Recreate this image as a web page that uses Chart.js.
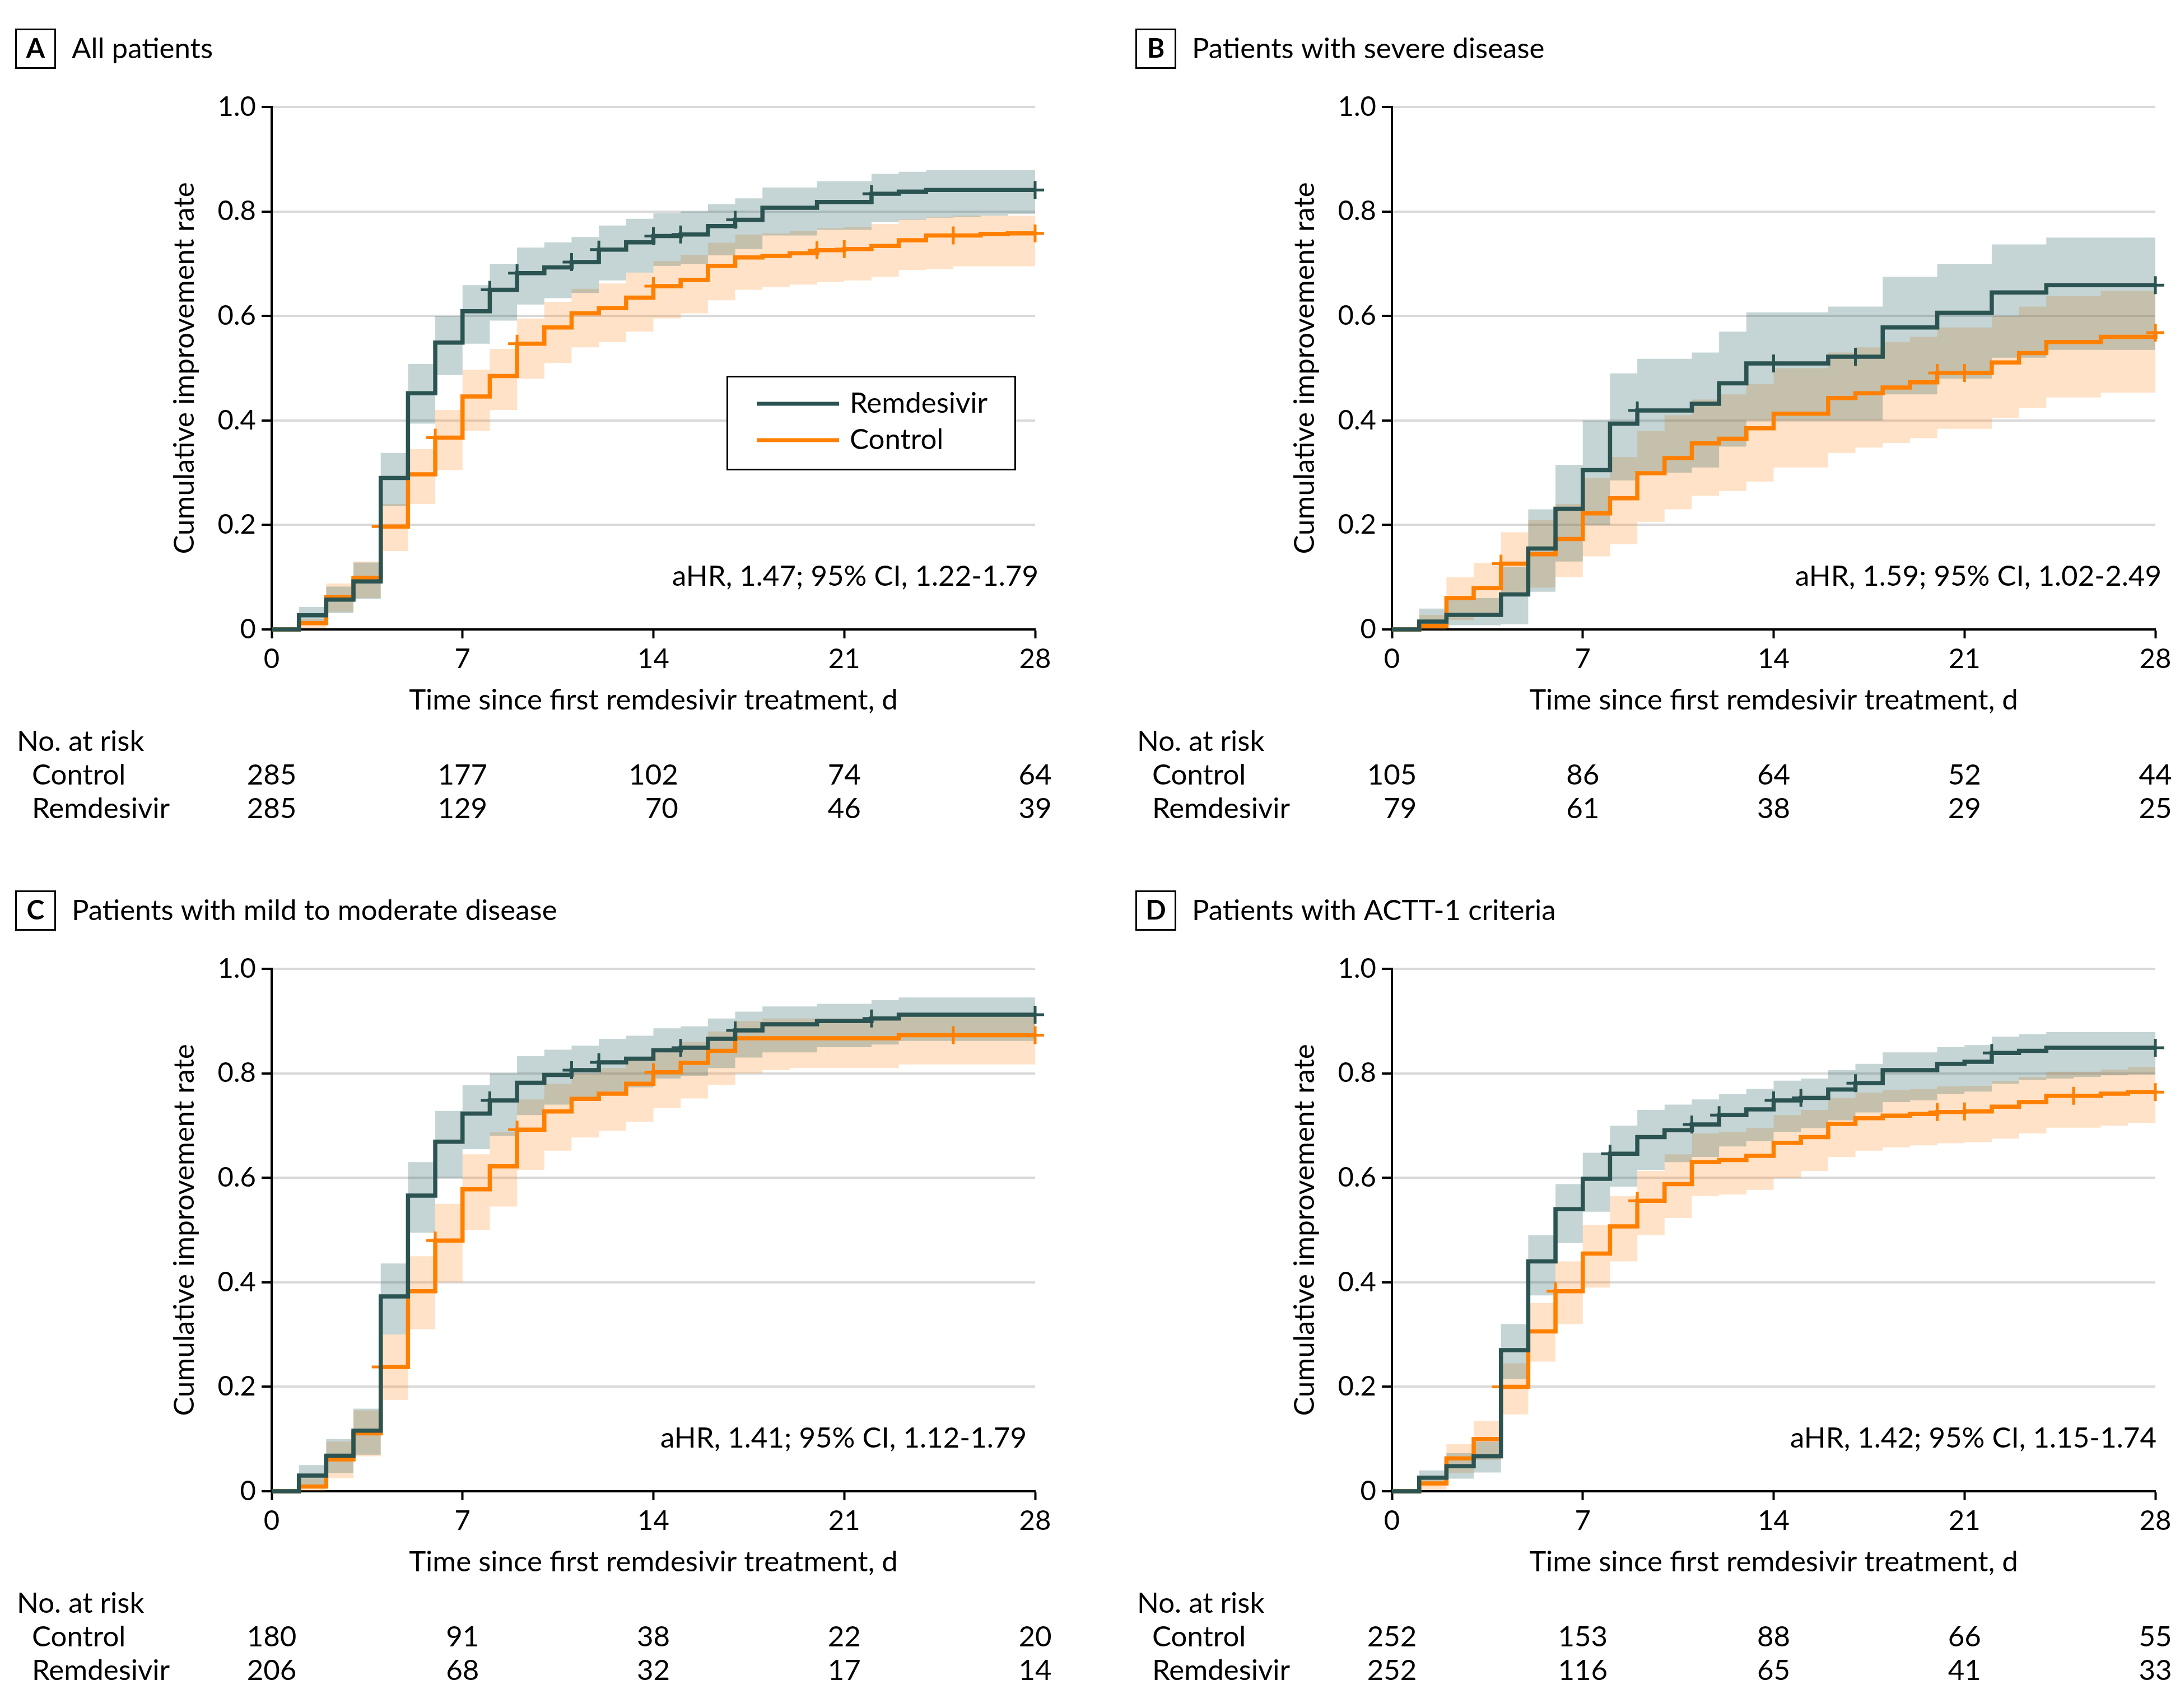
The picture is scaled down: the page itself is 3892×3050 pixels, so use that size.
<!DOCTYPE html>
<html>
<head>
<meta charset="utf-8">
<script src="https://cdn.jsdelivr.net/npm/chart.js@4.4.1/dist/chart.umd.min.js"></script>
<style>
html, body { margin: 0; background: #fff; }
#wrap { position: relative; width: 3892px; height: 3050px; }
canvas { position: absolute; }
</style>
</head>
<body>
<div id="wrap">
<canvas id="cA" width="2000" height="1539" style="left:0;top:0"></canvas>
<canvas id="cB" width="1892" height="1539" style="left:2000px;top:0"></canvas>
<canvas id="cC" width="2000" height="1511" style="left:0;top:1539px"></canvas>
<canvas id="cD" width="1892" height="1511" style="left:2000px;top:1539px"></canvas>
</div>
<script>
// days since first treatment, value after the step on that day
const days = [0,1,2,3,4,5,6,7,8,9,10,11,12,13,14,15,16,17,18,19,20,21,22,23,24,25,26,27,28];
const xTicks = [0, 7, 14, 21, 28];

// A - all patients
const aRem   = [0,.027,.057,.092,.290,.452,.549,.609,.650,.682,.693,.703,.727,.741,.753,.756,.772,.784,.807,.807,.818,.818,.834,.838,.841,.841,.841,.841,.841];
const aRemHi = [0,.043,.082,.128,.338,.508,.600,.659,.700,.731,.741,.751,.773,.786,.797,.800,.814,.825,.846,.846,.858,.858,.872,.876,.879,.879,.879,.879,.879];
const aRemLo = [0,.012,.031,.058,.236,.394,.487,.547,.591,.622,.634,.644,.668,.683,.696,.700,.716,.728,.754,.754,.765,.765,.780,.784,.788,.790,.792,.795,.798];
const aCtl   = [0,.012,.062,.099,.197,.297,.367,.446,.485,.547,.578,.605,.615,.635,.657,.669,.696,.712,.715,.720,.726,.728,.734,.745,.754,.754,.757,.758,.758];
const aCtlHi = [0,.020,.088,.130,.240,.345,.420,.497,.537,.595,.627,.652,.662,.683,.705,.717,.740,.756,.758,.763,.768,.770,.776,.785,.790,.792,.792,.792,.792];
const aCtlLo = [0,.003,.034,.060,.150,.240,.305,.380,.420,.480,.510,.540,.550,.570,.595,.605,.630,.650,.655,.660,.665,.668,.675,.688,.690,.695,.695,.695,.695];
const aRemCens = [8, 9, 11, 12, 14, 15, 17, 22, 28];
const aCtlCens = [4, 6, 9, 14, 20, 21, 25, 28];
const aRiskCtl = [285, 177, 102, 74, 64];
const aRiskRem = [285, 129, 70, 46, 39];

// B - severe disease
const bRem   = [0,.015,.028,.028,.067,.155,.231,.305,.394,.419,.419,.432,.471,.509,.509,.509,.522,.522,.578,.578,.606,.606,.645,.645,.659,.659,.659,.659,.659];
const bRemHi = [0,.040,.060,.060,.120,.230,.315,.400,.490,.518,.518,.530,.570,.607,.607,.607,.618,.618,.675,.675,.700,.700,.737,.737,.750,.750,.750,.750,.750];
const bRemLo = [0,.002,.008,.008,.010,.072,.130,.200,.285,.300,.300,.310,.350,.400,.400,.400,.400,.400,.450,.450,.480,.480,.520,.520,.535,.535,.535,.535,.535];
const bCtl   = [0,.007,.060,.079,.126,.144,.173,.222,.251,.299,.328,.356,.365,.385,.413,.413,.443,.452,.463,.473,.491,.491,.511,.529,.550,.550,.560,.560,.568];
const bCtlHi = [0,.028,.100,.127,.186,.210,.240,.290,.330,.380,.410,.440,.450,.470,.500,.500,.530,.540,.550,.560,.578,.578,.600,.618,.638,.638,.648,.648,.648];
const bCtlLo = [0,0,.018,.030,.065,.080,.100,.140,.163,.206,.230,.256,.265,.283,.310,.310,.338,.348,.357,.366,.384,.384,.405,.424,.444,.444,.453,.453,.453];
const bRemCens = [9, 14, 17, 28];
const bCtlCens = [4, 20, 21, 28];
const bRiskCtl = [105, 86, 64, 52, 44];
const bRiskRem = [79, 61, 38, 29, 25];

// C - mild to moderate disease
const cRem   = [0,.030,.068,.116,.373,.566,.669,.723,.748,.782,.797,.806,.821,.828,.844,.849,.866,.882,.894,.894,.900,.900,.905,.912,.912,.912,.912,.912,.912];
const cRemHi = [0,.050,.100,.158,.436,.630,.728,.777,.800,.833,.845,.853,.866,.872,.886,.890,.905,.918,.928,.928,.933,.933,.940,.945,.945,.945,.945,.945,.945];
const cRemLo = [0,.010,.035,.070,.300,.495,.600,.655,.680,.720,.740,.750,.765,.773,.790,.795,.810,.830,.840,.840,.850,.850,.855,.862,.862,.862,.862,.862,.862];
const cCtl   = [0,.009,.061,.111,.238,.383,.480,.578,.622,.692,.727,.751,.761,.780,.802,.820,.843,.867,.867,.867,.867,.867,.867,.873,.873,.873,.873,.873,.873];
const cCtlHi = [0,.025,.095,.155,.300,.450,.550,.645,.687,.750,.780,.800,.810,.825,.845,.860,.880,.900,.905,.905,.905,.905,.905,.910,.910,.910,.910,.910,.910];
const cCtlLo = [0,0,.025,.067,.175,.310,.400,.500,.545,.615,.652,.677,.690,.707,.733,.752,.778,.800,.806,.810,.810,.810,.810,.817,.817,.817,.817,.817,.817];
const cRemCens = [8, 11, 12, 15, 17, 22, 28];
const cCtlCens = [4, 6, 9, 14, 25, 28];
const cRiskCtl = [180, 91, 38, 22, 20];
const cRiskRem = [206, 68, 32, 17, 14];

// D - ACTT-1 criteria
const dRem   = [0,.026,.048,.067,.270,.440,.540,.598,.646,.678,.691,.702,.720,.731,.748,.753,.769,.781,.806,.806,.818,.822,.839,.843,.849,.849,.849,.849,.849];
const dRemHi = [0,.040,.073,.095,.320,.490,.588,.648,.700,.730,.740,.750,.760,.770,.786,.790,.806,.818,.840,.840,.850,.854,.870,.875,.879,.879,.879,.879,.879];
const dRemLo = [0,.012,.024,.036,.215,.375,.475,.535,.583,.615,.630,.640,.660,.670,.688,.695,.710,.725,.745,.748,.760,.765,.780,.787,.790,.793,.796,.798,.800];
const dCtl   = [0,.015,.063,.100,.200,.306,.383,.455,.507,.556,.588,.630,.634,.642,.667,.678,.703,.714,.719,.722,.726,.727,.736,.745,.757,.757,.761,.764,.764];
const dCtlHi = [0,.025,.090,.135,.245,.360,.440,.510,.565,.613,.645,.685,.688,.695,.720,.730,.753,.763,.768,.770,.775,.776,.785,.793,.803,.803,.807,.812,.812];
const dCtlLo = [0,.003,.035,.060,.147,.248,.320,.390,.440,.490,.523,.565,.568,.577,.600,.613,.640,.652,.658,.662,.666,.668,.675,.685,.696,.696,.700,.705,.705];
const dRemCens = [8, 11, 12, 14, 15, 17, 22, 28];
const dCtlCens = [4, 6, 9, 20, 21, 25, 28];
const dRiskCtl = [252, 153, 88, 66, 55];
const dRiskRem = [252, 116, 65, 41, 33];

const FONT = 'Lato, "Liberation Sans", sans-serif';
const FS = 51;
const REM = '#2b5351';
const CTL = '#ff8000';
const REM_BAND = 'rgba(40,100,100,0.27)';
const CTL_BAND = 'rgba(255,140,30,0.25)';

Chart.defaults.font.family = FONT;
Chart.defaults.color = '#000';

const pts = vals => days.map((d, i) => ({ x: d, y: vals[i] }));
const cens = (cd, vals) => cd.map(d => ({ x: d, y: vals[days.indexOf(d)] }));

function text(ctx, s, x, y, align, font) {
    ctx.font = font || (FS + 'px ' + FONT);
    ctx.textAlign = align;
    ctx.textBaseline = 'middle';
    ctx.fillStyle = '#000';
    ctx.fillText(s, x, y);
}

function deco(p) {
    return {
        id: 'deco' + p.letter,
        afterDraw(chart) {
            const ctx = chart.ctx;
            const a = chart.chartArea;
            const sx = chart.scales.x;
            ctx.save();

            // panel letter and title
            ctx.lineWidth = 3;
            ctx.strokeStyle = '#000';
            ctx.strokeRect(28.5, 52.5, 70, 69);
            text(ctx, p.letter, 63.5, 88, 'center', 'bold 48px ' + FONT);
            text(ctx, p.title, 128, 88, 'left');

            // axis titles
            ctx.save();
            ctx.translate(330, (a.top + a.bottom) / 2);
            ctx.rotate(-Math.PI / 2);
            text(ctx, 'Cumulative improvement rate', 0, 0, 'center');
            ctx.restore();
            text(ctx, 'Time since first remdesivir treatment, d', (a.left + a.right) / 2, 1251, 'center');

            text(ctx, p.hr, a.right + p.hrDx, 1030, 'right');

            // numbers at risk
            text(ctx, 'No. at risk', 30, 1325, 'left');
            text(ctx, 'Control', 57, 1385, 'left');
            text(ctx, 'Remdesivir', 57, 1445, 'left');
            xTicks.forEach((t, i) => {
                ctx.font = FS + 'px ' + FONT;
                const w = Math.max(ctx.measureText(String(p.riskCtl[i])).width,
                                   ctx.measureText(String(p.riskRem[i])).width);
                const xr = sx.getPixelForValue(t) + w / 2;
                text(ctx, String(p.riskCtl[i]), xr, 1385, 'right');
                text(ctx, String(p.riskRem[i]), xr, 1445, 'right');
            });

            if (p.legend) {
                ctx.lineWidth = 3;
                ctx.strokeStyle = '#000';
                ctx.fillStyle = '#fff';
                ctx.fillRect(1298, 672, 514, 166);
                ctx.strokeRect(1298.5, 672.5, 514, 166);
                ctx.lineWidth = 7;
                ctx.strokeStyle = REM;
                ctx.beginPath(); ctx.moveTo(1351, 721); ctx.lineTo(1498, 721); ctx.stroke();
                ctx.strokeStyle = CTL;
                ctx.beginPath(); ctx.moveTo(1351, 786); ctx.lineTo(1498, 786); ctx.stroke();
                text(ctx, 'Remdesivir', 1517, 721, 'left');
                text(ctx, 'Control', 1517, 786, 'left');
            }
            ctx.restore();
        }
    };
}

function makeChart(id, p) {
    const canvas = document.getElementById(id);
    const line = (label, vals, color) => ({
        label, data: pts(vals), borderColor: color, borderWidth: 7.5,
        stepped: 'before', pointRadius: 0, fill: false, clip: 6,
        borderJoinStyle: 'miter', borderCapStyle: 'butt'
    });
    const mark = (label, cd, vals, color) => ({
        label, data: cens(cd, vals), showLine: false, clip: false,
        pointStyle: 'cross', pointRadius: 16, pointBorderWidth: 5,
        pointBorderColor: color, borderColor: color, backgroundColor: color
    });
    const band = (label, vals, color, fill) => ({
        label, data: pts(vals), borderWidth: 0, borderColor: 'rgba(0,0,0,0)',
        backgroundColor: color, stepped: 'before', pointRadius: 0, fill
    });

    return new Chart(canvas.getContext('2d'), {
        type: 'line',
        data: {
            datasets: [
                mark('Remdesivir censored', p.remCens, p.rem, REM),
                line('Remdesivir', p.rem, REM),
                mark('Control censored', p.ctlCens, p.ctl, CTL),
                line('Control', p.ctl, CTL),
                band('Remdesivir upper', p.remHi, REM_BAND, '+1'),
                band('Remdesivir lower', p.remLo, REM_BAND, false),
                band('Control upper', p.ctlHi, CTL_BAND, '+1'),
                band('Control lower', p.ctlLo, CTL_BAND, false)
            ]
        },
        options: {
            responsive: false,
            animation: false,
            events: [],
            layout: {
                padding: { left: 0, top: 191, right: canvas.width - 1848, bottom: canvas.height - 1124 - 150 }
            },
            scales: {
                x: {
                    type: 'linear', min: 0, max: 28,
                    afterFit: s => { s.height = 150; s.paddingLeft = 0; s.paddingRight = 0; },
                    afterBuildTicks: s => { s.ticks = xTicks.map(v => ({ value: v })); },
                    ticks: { font: { size: 49 }, color: '#000', padding: 8, maxRotation: 0 },
                    grid: { drawOnChartArea: false, tickLength: 16, tickColor: '#000', tickWidth: 4 },
                    border: { color: '#000', width: 4 }
                },
                y: {
                    min: 0, max: 1,
                    afterFit: s => { s.width = 485; s.paddingTop = 0; s.paddingBottom = 0; },
                    ticks: {
                        stepSize: 0.2, font: { size: 49 }, color: '#000', padding: 10,
                        callback: v => v === 0 ? '0' : v.toFixed(1)
                    },
                    grid: { color: '#d9d9d9', lineWidth: 4, tickLength: 18, tickColor: '#000', tickWidth: 4 },
                    border: { color: '#000', width: 4 }
                }
            },
            plugins: { legend: { display: false }, tooltip: { enabled: false } }
        },
        plugins: [deco(p)]
    });
}

makeChart('cA', {
    letter: 'A', title: 'All patients', hr: 'aHR, 1.47; 95% CI, 1.22-1.79', hrDx: 6, legend: true,
    rem: aRem, remHi: aRemHi, remLo: aRemLo, ctl: aCtl, ctlHi: aCtlHi, ctlLo: aCtlLo,
    remCens: aRemCens, ctlCens: aCtlCens, riskCtl: aRiskCtl, riskRem: aRiskRem
});
makeChart('cB', {
    letter: 'B', title: 'Patients with severe disease', hr: 'aHR, 1.59; 95% CI, 1.02-2.49', hrDx: 11,
    rem: bRem, remHi: bRemHi, remLo: bRemLo, ctl: bCtl, ctlHi: bCtlHi, ctlLo: bCtlLo,
    remCens: bRemCens, ctlCens: bCtlCens, riskCtl: bRiskCtl, riskRem: bRiskRem
});
makeChart('cC', {
    letter: 'C', title: 'Patients with mild to moderate disease', hr: 'aHR, 1.41; 95% CI, 1.12-1.79', hrDx: -15,
    rem: cRem, remHi: cRemHi, remLo: cRemLo, ctl: cCtl, ctlHi: cCtlHi, ctlLo: cCtlLo,
    remCens: cRemCens, ctlCens: cCtlCens, riskCtl: cRiskCtl, riskRem: cRiskRem
});
makeChart('cD', {
    letter: 'D', title: 'Patients with ACTT-1 criteria', hr: 'aHR, 1.42; 95% CI, 1.15-1.74', hrDx: 2,
    rem: dRem, remHi: dRemHi, remLo: dRemLo, ctl: dCtl, ctlHi: dCtlHi, ctlLo: dCtlLo,
    remCens: dRemCens, ctlCens: dCtlCens, riskCtl: dRiskCtl, riskRem: dRiskRem
});
</script>
</body>
</html>
